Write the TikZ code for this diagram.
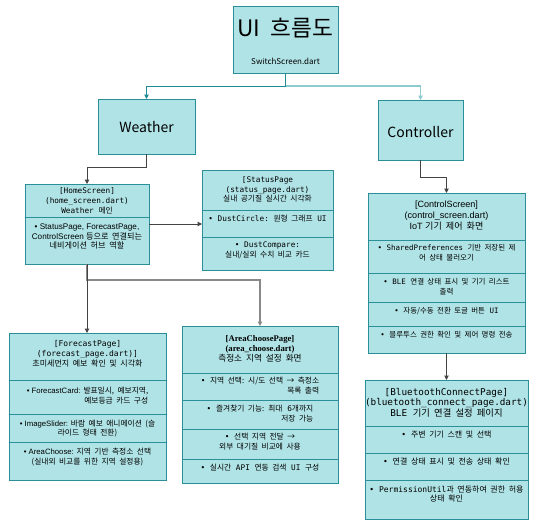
\documentclass[tikz,border=0pt]{standalone}
\usepackage{fontspec}
\setmainfont{Liberation Serif}
\setsansfont{Liberation Sans}
\setmonofont{DejaVu Sans Mono}
\newfontfamily\kofont{Noto Sans CJK KR}[WordSpace=2]
\newcommand{\ko}[1]{{\kofont #1}}
\usetikzlibrary{arrows.meta}
\definecolor{boxf}{HTML}{B0E3E6}
\definecolor{boxd}{HTML}{2A8F97}
\definecolor{tealA}{HTML}{1E8A92}
\definecolor{tealB}{HTML}{8CCCD1}
\definecolor{darkc}{HTML}{444444}
\definecolor{grayc}{HTML}{888888}
\tikzset{
  box/.style={draw=boxd, fill=boxf, line width=0.6pt, inner sep=0pt, outer sep=0pt, anchor=north west},
  sz/.style 2 args={minimum width=#1*0.75pt, minimum height=#2*0.75pt},
  div/.style={draw=boxd, line width=0.6pt},
  txt/.style={inner sep=0pt, align=center, text=black},
  mono/.style={font=\fontsize{#1}{7.4pt}\selectfont\ttfamily},
  sans/.style={font=\fontsize{#1}{7.2pt}\selectfont\sffamily},
  serb/.style={font=\fontsize{#1}{7.6pt}\selectfont\rmfamily\bfseries},
  tip/.style={-{Triangle[length=3.2pt,width=3.2pt]}},
  connT/.style={tip, draw=tealA, line width=0.7pt},
  connL/.style={tip, draw=tealB, line width=1.1pt},
  connD/.style={tip, draw=darkc, line width=0.7pt},
  connG/.style={tip, draw=grayc, line width=1pt},
}
\begin{document}
\begin{tikzpicture}[x=0.75pt,y=-0.75pt]
\useasboundingbox (0,0) rectangle (544,528);

% ---- boxes
\node[box, sz={105}{67}] (ttl) at (233,6) {};
\node[box, sz={97}{55}] (wth) at (98,99) {};
\node[box, sz={85}{60}] (ctl) at (378,100) {};
\node[box, sz={124}{80}] (home) at (25,184) {};
\node[box, sz={131}{100}] (stat) at (202,170) {};
\node[box, sz={157}{160}] (ctrl) at (368,193) {};
\node[box, sz={157}{147}] (fore) at (9,333) {};
\node[box, sz={156}{157}] (area) at (182,326) {};
\node[box, sz={163}{139}] (bt) at (365,380) {};

% ---- dividers
\draw[div] (home.west |- 0,217) -- (home.east |- 0,217);
\draw[div] (stat.west |- 0,210) -- (stat.east |- 0,210);
\draw[div] (stat.west |- 0,237) -- (stat.east |- 0,237);
\foreach \yy in {240,273,302,326} \draw[div] (ctrl.west |- 0,\yy) -- (ctrl.east |- 0,\yy);
\foreach \yy in {380,414,442} \draw[div] (fore.west |- 0,\yy) -- (fore.east |- 0,\yy);
\foreach \yy in {373,400,429,459} \draw[div] (area.west |- 0,\yy) -- (area.east |- 0,\yy);
\foreach \yy in {426,453,480} \draw[div] (bt.west |- 0,\yy) -- (bt.east |- 0,\yy);

% ---- texts
\node[txt, font=\fontsize{17pt}{20pt}\selectfont\kofont] (ttlA) at (ttl |- 0,28) {UI 흐름도};
\node[txt, font=\fontsize{6pt}{7pt}\selectfont\kofont] (ttlB) at (ttl |- 0,61) {SwitchScreen.dart};
\node[txt, font=\fontsize{10.5pt}{12pt}\selectfont\kofont] (wthT) at (wth |- 0,127) {Weather};
\node[txt, font=\fontsize{10.5pt}{12pt}\selectfont\kofont] (ctlT) at (ctl |- 0,132) {Controller};

% HomeScreen
\node[txt, mono=5.8pt] (homeH) at (home |- 0,200.5) {[HomeScreen]\\(home\_screen.dart)\\Weather \ko{메인}};
\node[txt, sans=6.1pt] (homeB) at (home |- 0,236.5) {• StatusPage, ForecastPage,\\ControlScreen \ko{등으로 연결되는}\\\ko{네비게이션 허브 역할}};

% StatusPage
\node[txt, mono=5.8pt] (statH) at (stat |- 0,189.5) {[StatusPage\\(status\_page.dart)\\\ko{실내 공기질 실시간 시각화}};
\node[txt, mono=5.8pt] (statA) at (stat |- 0,219) {• DustCircle: \ko{원형 그래프} UI};
\node[txt, mono=5.8pt] (statB) at (stat |- 0,250) {• DustCompare:\\\ko{실내/실외 수치 비교 카드}};

% ControlScreen
\node[txt, sans=6.8pt, font=\fontsize{6.8pt}{8.2pt}\selectfont\sffamily] (ctrlH) at (ctrl |- 0,216) {[ControlScreen]\\(control\_screen.dart)\\IoT \ko{기기 제어 화면}};
\node[txt, mono=5.6pt] (ctrlA) at (ctrl |- 0,252.5) {• SharedPreferences \ko{기반 저장된 제}\\\ko{어 상태 불러오기}};
\node[txt, mono=5.6pt] (ctrlB) at (ctrl |- 0,286.5) {• BLE \ko{연결 상태 표시 및 기기 리스트}\\\ko{출력}};
\node[txt, mono=5.6pt] (ctrlC) at (ctrl |- 0,311) {• \ko{자동/수동 전환 토글 버튼} UI};
\node[txt, mono=5.6pt] (ctrlD) at (ctrl |- 0,335) {• \ko{블루투스 권한 확인 및 제어 명령 전송}};

% ForecastPage
\node[txt, mono=6pt] (foreH) at (fore |- 0,354) {[ForecastPage]\\(forecast\_page.dart)]\\\ko{초미세먼지 예보 확인 및 시각화}};
\node[txt, sans=5.8pt, align=right] (foreA) at (fore |- 0,395.5) {• ForecastCard: \ko{발표일시, 예보지역,}\\\ko{예보등급 카드 구성}};
\node[txt, sans=5.8pt] (foreB) at (fore |- 0,428.5) {• ImageSlider: \ko{바람 예보 애니메이션 (슬}\\\ko{라이드 형태 전환)}};
\node[txt, sans=5.8pt] (foreC) at (fore |- 0,457) {• AreaChoose: \ko{지역 기반 측정소 선택}\\\ko{(실내외 비교를 위한 지역 설정용)}};

% AreaChoosePage
\node[txt, serb=6.5pt] (areaH) at (area |- 0,349) {[AreaChoosePage]\\(area\_choose.dart)\\{\mdseries\ko{측정소 지역 설정 화면}}};
\node[txt, mono=5.8pt, align=right] (areaA) at (area |- 0,386) {• \ko{지역 선택: 시/도 선택 → 측정소}\\\ko{목록 출력}};
\node[txt, mono=5.8pt, align=right] (areaB) at (area |- 0,413.5) {• \ko{즐겨찾기 기능: 최대} 6\ko{개까지}\\\ko{저장 가능}};
\node[txt, mono=5.8pt] (areaC) at (area |- 0,441.5) {• \ko{선택 지역 전달 →}\\\ko{외부 대기질 비교에 사용}};
\node[txt, mono=5.8pt] (areaD) at (area |- 0,468) {• \ko{실시간} API \ko{연동 검색} UI \ko{구성}};

% BluetoothConnectPage
\node[txt, font=\fontsize{7pt}{7.9pt}\selectfont\ttfamily] (btH) at (bt |- 0,402.5) {[BluetoothConnectPage]\\(bluetooth\_connect\_page.dart)\\BLE \ko{기기 연결 설정 페이지}};
\node[txt, mono=6pt] (btA) at (bt |- 0,435) {• \ko{주변 기기 스캔 및 선택}};
\node[txt, mono=6pt] (btB) at (bt |- 0,461) {• \ko{연결 상태 표시 및 전송 상태 확인}};
\node[txt, mono=6pt] (btC) at (bt |- 0,494) {• PermissionUtil\ko{과 연동하여 권한 허용}\\\ko{상태 확인}};

% ---- connectors
\draw[connL] (ttl.south) -- ++(0,13) -| (ctl.north);
\draw[connT] (ttl.south) -- ++(0,13) -| (wth.north);
\draw[connD] (wth.south) -- ++(0,13) -| (home.north);
\draw[connD] (home.east) -- (stat.west |- home.east);
\draw[connG] (home.south) -- ++(0,16) -| (area.north);
\draw[connD] (home.south) -- (home.south |- fore.north);
\draw[connD] (ctl.south) -- ++(0,17) -| (ctrl.north);
\draw[connD] (ctrl.south) -- (ctrl.south |- bt.north);
\end{tikzpicture}
\end{document}
